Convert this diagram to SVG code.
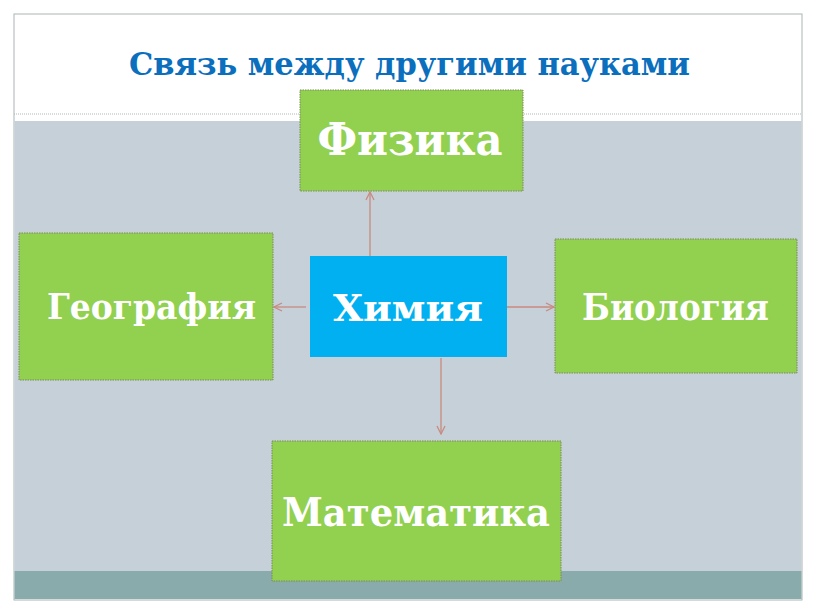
<svg xmlns="http://www.w3.org/2000/svg" width="816" height="613" viewBox="0 0 816 613">
<defs>
<style>
.node{fill:#92d050;stroke:#7a8a5a;stroke-width:1;stroke-dasharray:1.5 1}
.lbl{font-family:"DejaVu Serif","Liberation Serif",serif;font-weight:bold;fill:#ffffff;text-anchor:middle}
.conn{stroke:#c98a80;stroke-width:1.3;fill:none}
</style>
<marker id="ah" viewBox="0 0 10 10" refX="9" refY="5" markerWidth="10" markerHeight="10" markerUnits="userSpaceOnUse" orient="auto">
<path d="M1,1 L9,5 L1,9" fill="none" stroke="#c98a80" stroke-width="1.3"/>
</marker>
</defs>
<rect x="0" y="0" width="816" height="613" fill="#ffffff"/>
<g id="slide">
<rect x="14" y="14" width="788" height="586" fill="#ffffff" stroke="#a9b6b6" stroke-width="1"/>
<rect x="14.5" y="121" width="787" height="450" fill="#c5d0d8"/>
<rect x="14.5" y="571" width="787" height="28" fill="#8aabab"/>
<line x1="14" y1="114" x2="802" y2="114" stroke="#b0b8b8" stroke-width="1" stroke-dasharray="1 1"/>
<text x="409.5" y="75" font-family="DejaVu Serif,Liberation Serif,serif" font-weight="bold" font-size="31" fill="#0b6fbd" text-anchor="middle" textLength="561" lengthAdjust="spacingAndGlyphs">Связь между другими науками</text>
</g>
<g id="connectors">
<line class="conn" x1="370" y1="258" x2="370" y2="192" marker-end="url(#ah)"/>
<line class="conn" x1="306" y1="307" x2="274" y2="307" marker-end="url(#ah)"/>
<line class="conn" x1="507" y1="307" x2="554" y2="307" marker-end="url(#ah)"/>
<line class="conn" x1="441" y1="358" x2="441" y2="434" marker-end="url(#ah)"/>
</g>
<g id="fizika">
<rect class="node" x="300" y="90" width="223" height="101"/>
<text class="lbl" x="410" y="155" font-size="44" textLength="185" lengthAdjust="spacingAndGlyphs">Физика</text>
</g>
<g id="himiya">
<rect x="310" y="256" width="197" height="101" fill="#00b0f0"/>
<text class="lbl" x="408" y="321" font-size="38" textLength="150" lengthAdjust="spacingAndGlyphs">Химия</text>
</g>
<g id="geografiya">
<rect class="node" x="19" y="233" width="254" height="147"/>
<text class="lbl" x="151.5" y="319" font-size="36" textLength="209" lengthAdjust="spacingAndGlyphs">География</text>
</g>
<g id="biologiya">
<rect class="node" x="555" y="239" width="242" height="134"/>
<text class="lbl" x="675.5" y="320" font-size="37" textLength="187" lengthAdjust="spacingAndGlyphs">Биология</text>
</g>
<g id="matematika">
<rect class="node" x="272" y="441" width="289" height="140"/>
<text class="lbl" x="416" y="526" font-size="40" textLength="268" lengthAdjust="spacingAndGlyphs">Математика</text>
</g>
</svg>
